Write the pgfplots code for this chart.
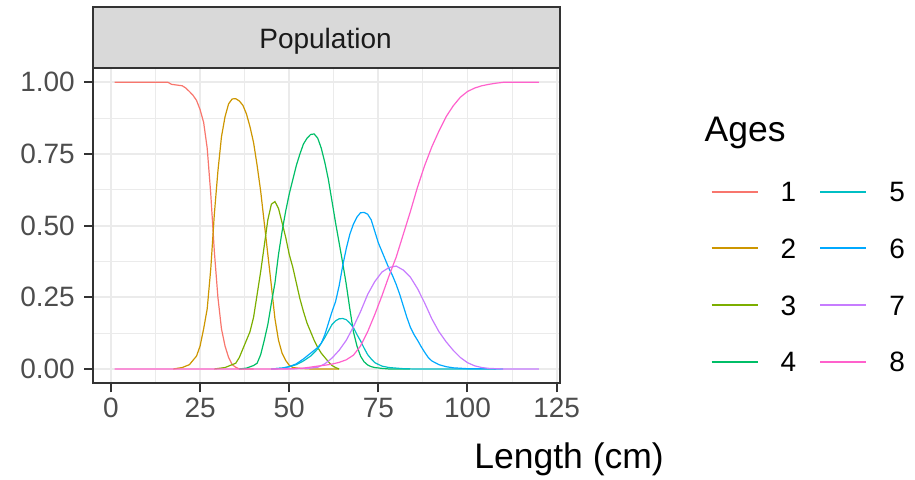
\documentclass[border=0pt]{standalone}
\usepackage{fontspec}
\setmainfont{Liberation Sans}
\usepackage{pgfplots}
\pgfplotsset{compat=1.18}

% ggplot2 default hue palette for eight groups
\definecolor{age1}{HTML}{F8766D}
\definecolor{age2}{HTML}{CD9600}
\definecolor{age3}{HTML}{7CAE00}
\definecolor{age4}{HTML}{00BE67}
\definecolor{age5}{HTML}{00BFC4}
\definecolor{age6}{HTML}{00A9FF}
\definecolor{age7}{HTML}{C77CFF}
\definecolor{age8}{HTML}{FF61CC}
\definecolor{grey10}{HTML}{1A1A1A}
\definecolor{grey20}{HTML}{333333}
\definecolor{grey30}{HTML}{4D4D4D}
\definecolor{grey85}{HTML}{D9D9D9}
\definecolor{grey92}{HTML}{EBEBEB}

\newcommand\tickfont{\fontsize{28}{34}\selectfont}
\newcommand\stripfont{\fontsize{28}{34}\selectfont}
\newcommand\titlefont{\fontsize{35.5}{42}\selectfont}

\begin{document}
\begin{tikzpicture}[x=1pt,y=1pt]
\path[use as bounding box] (0pt,0pt) rectangle (915pt,479pt);

\begin{axis}[
  at={(93.3pt,95.7pt)}, anchor=south west,
  scale only axis, width=466.7pt, height=315.3pt,
  xmin=-4.95, xmax=125.95, ymin=-0.05, ymax=1.05,
  xtick={0,25,50,75,100,125},
  ytick={0,0.25,0.5,0.75,1},
  minor xtick={12.5,37.5,62.5,87.5,112.5},
  minor ytick={0.125,0.375,0.625,0.875},
  grid=both,
  major grid style={grey92, line width=1.8pt},
  minor grid style={grey92, line width=1.1pt},
  axis line style={grey20, line width=2pt},
  tick align=outside, tick pos=left,
  major tick length=9pt, minor tick length=0pt,
  tick style={grey20, line width=2pt},
  /pgf/number format/assume math mode=true,
  ticklabel style={font=\tickfont, text=grey30},
  yticklabel style={xshift=-6pt},
  xticklabel style={yshift=-2pt},
  scaled y ticks=false,
  yticklabel={\pgfmathprintnumber[fixed,fixed zerofill,precision=2]{\tick}},
  xlabel={Length (cm)},
  xlabel style={at={(axis description cs:1.2228,-0.2696)}, anchor=base east,
    font=\titlefont, inner sep=0pt},
  legend columns=4, transpose legend,
  legend image code/.code={%
    \path[draw=none] (0pt,0pt) -- (69pt,0pt);
    \draw[#1, line width=2pt] (0pt,0pt) -- (46pt,0pt);},
  legend style={at={(axis description cs:1.3229,0.6394)}, anchor=north west,
    draw=none, fill=none, inner sep=0pt, outer sep=0pt,
    row sep=36.7pt,
    nodes={inner sep=0pt, font=\tickfont, text=black, text height=20pt, text depth=0pt},
    /tikz/every even column/.append style={column sep=23pt}},
  legend cell align=left,
  clip=false,
]
\addplot[age1, line width=1.2pt] coordinates {
 (1,1) (16,1) (17,0.993) (20,0.988) (21,0.98) (22,0.968) (23,0.955) (24,0.937)
 (25,0.905) (26,0.86) (27,0.77) (28,0.61) (29,0.41) (30,0.25) (31,0.14) (32,0.08)
 (33,0.04) (34,0.015) (35,0.006) (36,0) (40,0)};
\addlegendentry{1}
\addplot[age2, line width=1.2pt] coordinates {
 (17.5,0) (20,0.005) (22,0.015) (24,0.045) (25,0.08) (26,0.14) (27,0.21) (28,0.35)
 (29,0.54) (30,0.69) (31,0.81) (32,0.88) (33,0.925) (34,0.942) (35,0.943) (36,0.935)
 (37,0.92) (38,0.89) (39,0.845) (40,0.79) (41,0.71) (42,0.62) (43,0.51) (44,0.40)
 (45,0.29) (46,0.175) (47,0.10) (48,0.055) (49,0.03) (50,0.013) (51,0.005) (53,0.002)
 (56,0) (64,0)};
\addlegendentry{2}
\addplot[age3, line width=1.2pt] coordinates {
 (29,0) (32,0.005) (34,0.015) (35,0.02) (36,0.04) (37,0.07) (38,0.10) (39,0.13)
 (40,0.18) (41,0.26) (42,0.34) (43,0.43) (44,0.52) (45,0.575) (46,0.584) (47,0.56)
 (48,0.51) (49,0.46) (50,0.40) (51,0.355) (52,0.30) (53,0.245) (54,0.20) (55,0.16)
 (56,0.13) (57,0.10) (58,0.075) (59,0.055) (60,0.04) (61,0.025) (62,0.012) (63,0.005)
 (64,0)};
\addlegendentry{3}
\addplot[age4, line width=1.2pt] coordinates {
 (36,0) (38,0.003) (40,0.012) (41,0.02) (42,0.05) (43,0.10) (44,0.155) (45,0.23)
 (46,0.30) (47,0.40) (48,0.48) (49,0.55) (50,0.61) (51,0.66) (52,0.71) (53,0.75)
 (54,0.785) (55,0.805) (56,0.818) (57,0.82) (58,0.805) (59,0.77) (60,0.72) (61,0.66)
 (62,0.585) (63,0.51) (64,0.44) (65,0.37) (66,0.295) (67,0.21) (68,0.13) (69,0.08)
 (70,0.045) (71,0.025) (72,0.014) (73,0.008) (74,0.005) (76,0.002) (78,0) (84,0)};
\addlegendentry{4}
\addplot[age5, line width=1.2pt] coordinates {
 (45,0) (48,0.003) (50,0.008) (52,0.015) (54,0.028) (56,0.045) (58,0.07) (60,0.11)
 (62,0.155) (63,0.168) (64,0.175) (65,0.176) (66,0.172) (67,0.16) (68,0.145) (69,0.12)
 (70,0.098) (71,0.073) (72,0.05) (73,0.035) (74,0.022) (76,0.01) (78,0.005) (82,0.001)
 (85,0) (108,0)};
\addlegendentry{5}
\addplot[age6, line width=1.2pt] coordinates {
 (45,0) (48,0.003) (50,0.008) (52,0.018) (54,0.035) (56,0.055) (58,0.075) (59,0.09)
 (60,0.12) (61,0.16) (62,0.20) (63,0.235) (64,0.29) (65,0.36) (66,0.42) (67,0.47)
 (68,0.505) (69,0.53) (70,0.545) (71,0.546) (72,0.54) (73,0.52) (74,0.48) (75,0.44)
 (76,0.41) (77,0.38) (78,0.35) (79,0.325) (80,0.295) (81,0.26) (82,0.22) (83,0.18)
 (84,0.145) (85,0.12) (86,0.10) (87,0.078) (88,0.058) (89,0.04) (90,0.028) (92,0.015)
 (94,0.008) (96,0.004) (100,0.001) (110,0)};
\addlegendentry{6}
\addplot[age7, line width=1.2pt] coordinates {
 (45,0) (52,0.001) (56,0.003) (58,0.006) (60,0.018) (62,0.038) (64,0.065) (66,0.10)
 (68,0.147) (70,0.20) (72,0.26) (74,0.305) (76,0.338) (78,0.354) (80,0.359) (82,0.345)
 (84,0.32) (86,0.28) (88,0.23) (90,0.175) (92,0.13) (94,0.095) (96,0.065) (98,0.04)
 (100,0.022) (102,0.011) (104,0.005) (106,0.002) (110,0) (120,0)};
\addlegendentry{7}
\addplot[age8, line width=1.2pt] coordinates {
 (1,0) (50,0) (54,0.003) (58,0.01) (60,0.013) (62,0.017) (64,0.023) (66,0.032)
 (68,0.048) (70,0.08) (72,0.13) (74,0.19) (76,0.255) (78,0.325) (80,0.39) (82,0.47)
 (84,0.55) (86,0.635) (88,0.71) (90,0.775) (92,0.83) (94,0.88) (96,0.918) (98,0.948)
 (100,0.968) (102,0.98) (104,0.988) (106,0.993) (108,0.997) (110,1) (120,1)};
\addlegendentry{8}
\end{axis}

% facet strip above the panel
\draw[fill=grey85, draw=grey20, line width=2pt] (93.3pt,411pt) rectangle (560pt,472pt);
\node[anchor=base, inner sep=0pt, font=\stripfont, text=grey10] at (325.5pt,430.7pt) {Population};

% legend title
\node[anchor=base west, inner sep=0pt, font=\titlefont] at (704.5pt,337.3pt) {Ages};
\end{tikzpicture}
\end{document}
